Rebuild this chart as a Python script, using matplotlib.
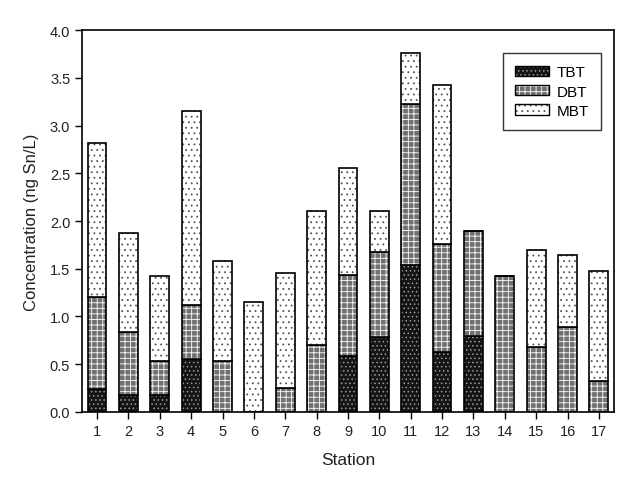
import matplotlib
matplotlib.use("Agg")
import matplotlib.pyplot as plt
import numpy as np
from matplotlib.patches import Patch

plt.rcParams['font.family'] = ['Liberation Sans', 'DejaVu Sans']
plt.rcParams['hatch.linewidth'] = 0.6

stations = [str(i) for i in range(1, 18)]
tbt = [0.24, 0.18, 0.18, 0.55, 0.0, 0.0, 0.0, 0.0, 0.585, 0.78, 1.54, 0.63, 0.795, 0.0, 0.0, 0.0, 0.0]
dbt = [0.96, 0.66, 0.35, 0.57, 0.53, 0.0, 0.25, 0.70, 0.845, 0.90, 1.69, 1.13, 1.105, 1.42, 0.685, 0.885, 0.32]
mbt = [1.62, 1.03, 0.89, 2.03, 1.05, 1.155, 1.21, 1.41, 1.13, 0.43, 0.53, 1.66, 0.0, 0.0, 1.015, 0.755, 1.16]

series = [("TBT", tbt, "#151515", "#9a9a9a", "...."),
          ("DBT", dbt, "#707070", "white", "+++"),
          ("MBT", mbt, "white", "#555555", "...")]

fig = plt.figure(figsize=(6.31, 4.85), dpi=100)
ax = fig.add_axes([0.13, 0.1485, 0.843, 0.7875])

x = np.arange(1, len(stations) + 1)
width = 0.6
bottom = np.zeros(len(stations))
handles = []
for name, vals, fc, hc, hatch in series:
    vals = np.array(vals)
    ax.bar(x, vals, width, bottom=bottom, color=fc, edgecolor=hc, hatch=hatch, linewidth=0)
    ax.bar(x, vals, width, bottom=bottom, fill=False, edgecolor='black', linewidth=1.2)
    bottom = bottom + vals
    handles.append((Patch(facecolor=fc, edgecolor=hc, hatch=hatch, linewidth=0),
                    Patch(fill=False, edgecolor='black', linewidth=1.0)))

ax.set_xlim(0.52, 17.48)
ax.set_ylim(0, 4.0)
ax.set_xticks(x)
ax.set_xticklabels(stations)
ax.set_yticks(np.arange(0, 4.01, 0.5))
ax.set_yticklabels([f"{v:.1f}" for v in np.arange(0, 4.01, 0.5)])
ax.tick_params(direction='out', length=5, width=1, labelsize=10.5, colors='black', labelcolor='#222222')
for s in ax.spines.values():
    s.set_linewidth(1.2)
ax.set_xlabel("Station", fontsize=12.5, color='#222222', labelpad=10)
ax.set_ylabel("Concentration (ng Sn/L)", fontsize=12, color='#222222', labelpad=8)

leg = ax.legend(handles, [s[0] for s in series], loc='upper right',
                bbox_to_anchor=(0.9756, 0.94), fontsize=11, frameon=True, fancybox=False,
                edgecolor='black', handlelength=2.2, handleheight=0.65, borderpad=0.8,
                labelspacing=0.35, handletextpad=0.5, borderaxespad=0)
leg.get_frame().set_linewidth(1.0)

fig.savefig("out.png", dpi=100)
